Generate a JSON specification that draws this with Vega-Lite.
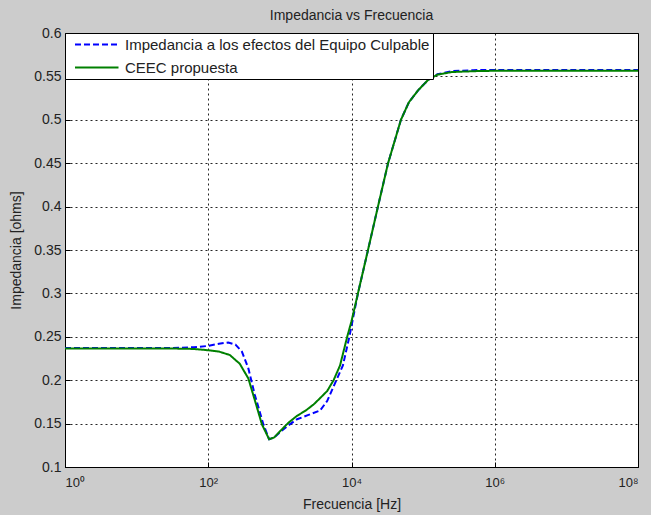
{
  "$schema": "https://vega.github.io/schema/vega-lite/v6.json",
  "width": 573,
  "height": 434,
  "autosize": "none",
  "padding": {"left": 65, "top": 33, "right": 13, "bottom": 48},
  "background": "#cccccc",
  "title": {"text": "Impedancia vs Frecuencia", "fontSize": 14, "fontWeight": "normal", "color": "#222222", "offset": 3, "font": "Liberation Sans"},
  "config": {
    "font": "Liberation Sans",
    "view": {"fill": "white", "stroke": "black", "strokeWidth": 1},
    "axis": {
      "domainColor": "black", "tickColor": "black", "labelColor": "#222222", "titleColor": "#222222",
      "labelFontSize": 14, "titleFontSize": 14, "titleFontWeight": "normal",
      "gridColor": "black", "gridDash": [2, 3], "gridOpacity": 0.85, "gridWidth": 1, "tickSize": -5
    },
    "legend": {
      "orient": "top-left", "offset": 0, "fillColor": "white", "strokeColor": "black", "padding": 3,
      "symbolType": "M-0.2,0H5.6", "symbolSize": 225, "symbolStrokeWidth": 2, "labelFontSize": 15,
      "labelColor": "#222222", "rowPadding": 6, "labelLimit": 400, "title": null, "labelOffset": 40
    }
  },
  "data": {"values": [
    {"f": 1, "z": 0.237, "serie": "Impedancia a los efectos del Equipo Culpable"},
    {"f": 31.6, "z": 0.237, "serie": "Impedancia a los efectos del Equipo Culpable"},
    {"f": 63.1, "z": 0.238, "serie": "Impedancia a los efectos del Equipo Culpable"},
    {"f": 100, "z": 0.2395, "serie": "Impedancia a los efectos del Equipo Culpable"},
    {"f": 141, "z": 0.242, "serie": "Impedancia a los efectos del Equipo Culpable"},
    {"f": 190, "z": 0.2435, "serie": "Impedancia a los efectos del Equipo Culpable"},
    {"f": 240, "z": 0.241, "serie": "Impedancia a los efectos del Equipo Culpable"},
    {"f": 295, "z": 0.233, "serie": "Impedancia a los efectos del Equipo Culpable"},
    {"f": 363, "z": 0.2136, "serie": "Impedancia a los efectos del Equipo Culpable"},
    {"f": 447, "z": 0.183, "serie": "Impedancia a los efectos del Equipo Culpable"},
    {"f": 589, "z": 0.149, "serie": "Impedancia a los efectos del Equipo Culpable"},
    {"f": 708, "z": 0.132, "serie": "Impedancia a los efectos del Equipo Culpable"},
    {"f": 832, "z": 0.134, "serie": "Impedancia a los efectos del Equipo Culpable"},
    {"f": 1000, "z": 0.14, "serie": "Impedancia a los efectos del Equipo Culpable"},
    {"f": 1318, "z": 0.148, "serie": "Impedancia a los efectos del Equipo Culpable"},
    {"f": 1738, "z": 0.155, "serie": "Impedancia a los efectos del Equipo Culpable"},
    {"f": 2512, "z": 0.16, "serie": "Impedancia a los efectos del Equipo Culpable"},
    {"f": 3631, "z": 0.165, "serie": "Impedancia a los efectos del Equipo Culpable"},
    {"f": 4571, "z": 0.176, "serie": "Impedancia a los efectos del Equipo Culpable"},
    {"f": 5495, "z": 0.191, "serie": "Impedancia a los efectos del Equipo Culpable"},
    {"f": 7586, "z": 0.217, "serie": "Impedancia a los efectos del Equipo Culpable"},
    {"f": 9333, "z": 0.25, "serie": "Impedancia a los efectos del Equipo Culpable"},
    {"f": 12300, "z": 0.3, "serie": "Impedancia a los efectos del Equipo Culpable"},
    {"f": 17000, "z": 0.35, "serie": "Impedancia a los efectos del Equipo Culpable"},
    {"f": 23400, "z": 0.4, "serie": "Impedancia a los efectos del Equipo Culpable"},
    {"f": 32400, "z": 0.45, "serie": "Impedancia a los efectos del Equipo Culpable"},
    {"f": 49000, "z": 0.5, "serie": "Impedancia a los efectos del Equipo Culpable"},
    {"f": 63100, "z": 0.52, "serie": "Impedancia a los efectos del Equipo Culpable"},
    {"f": 85100, "z": 0.534, "serie": "Impedancia a los efectos del Equipo Culpable"},
    {"f": 117500, "z": 0.546, "serie": "Impedancia a los efectos del Equipo Culpable"},
    {"f": 158500, "z": 0.5525, "serie": "Impedancia a los efectos del Equipo Culpable"},
    {"f": 251000, "z": 0.556, "serie": "Impedancia a los efectos del Equipo Culpable"},
    {"f": 501000, "z": 0.5572, "serie": "Impedancia a los efectos del Equipo Culpable"},
    {"f": 1000000, "z": 0.5575, "serie": "Impedancia a los efectos del Equipo Culpable"},
    {"f": 10000000, "z": 0.5575, "serie": "Impedancia a los efectos del Equipo Culpable"},
    {"f": 100000000, "z": 0.5575, "serie": "Impedancia a los efectos del Equipo Culpable"},
    {"f": 1, "z": 0.2365, "serie": "CEEC propuesta"},
    {"f": 10, "z": 0.2365, "serie": "CEEC propuesta"},
    {"f": 31.6, "z": 0.2365, "serie": "CEEC propuesta"},
    {"f": 63.1, "z": 0.236, "serie": "CEEC propuesta"},
    {"f": 100, "z": 0.2345, "serie": "CEEC propuesta"},
    {"f": 141, "z": 0.233, "serie": "CEEC propuesta"},
    {"f": 200, "z": 0.229, "serie": "CEEC propuesta"},
    {"f": 275, "z": 0.219, "serie": "CEEC propuesta"},
    {"f": 363, "z": 0.202, "serie": "CEEC propuesta"},
    {"f": 447, "z": 0.177, "serie": "CEEC propuesta"},
    {"f": 562, "z": 0.149, "serie": "CEEC propuesta"},
    {"f": 708, "z": 0.132, "serie": "CEEC propuesta"},
    {"f": 832, "z": 0.134, "serie": "CEEC propuesta"},
    {"f": 1000, "z": 0.141, "serie": "CEEC propuesta"},
    {"f": 1318, "z": 0.151, "serie": "CEEC propuesta"},
    {"f": 1738, "z": 0.159, "serie": "CEEC propuesta"},
    {"f": 2291, "z": 0.165, "serie": "CEEC propuesta"},
    {"f": 2951, "z": 0.172, "serie": "CEEC propuesta"},
    {"f": 3715, "z": 0.18, "serie": "CEEC propuesta"},
    {"f": 4571, "z": 0.1875, "serie": "CEEC propuesta"},
    {"f": 5623, "z": 0.2, "serie": "CEEC propuesta"},
    {"f": 6918, "z": 0.217, "serie": "CEEC propuesta"},
    {"f": 8710, "z": 0.25, "serie": "CEEC propuesta"},
    {"f": 10000, "z": 0.268, "serie": "CEEC propuesta"},
    {"f": 12300, "z": 0.3, "serie": "CEEC propuesta"},
    {"f": 17000, "z": 0.35, "serie": "CEEC propuesta"},
    {"f": 23400, "z": 0.4, "serie": "CEEC propuesta"},
    {"f": 32400, "z": 0.45, "serie": "CEEC propuesta"},
    {"f": 49000, "z": 0.5, "serie": "CEEC propuesta"},
    {"f": 63100, "z": 0.52, "serie": "CEEC propuesta"},
    {"f": 85100, "z": 0.534, "serie": "CEEC propuesta"},
    {"f": 117500, "z": 0.546, "serie": "CEEC propuesta"},
    {"f": 158500, "z": 0.552, "serie": "CEEC propuesta"},
    {"f": 251000, "z": 0.555, "serie": "CEEC propuesta"},
    {"f": 501000, "z": 0.556, "serie": "CEEC propuesta"},
    {"f": 1000000, "z": 0.5565, "serie": "CEEC propuesta"},
    {"f": 10000000, "z": 0.5565, "serie": "CEEC propuesta"},
    {"f": 100000000, "z": 0.5565, "serie": "CEEC propuesta"}
  ]},
  "mark": {"type": "line", "strokeWidth": 2, "clip": true},
  "encoding": {
    "x": {
      "field": "f", "type": "quantitative",
      "scale": {"type": "log", "domain": [1, 100000000], "nice": false},
      "axis": {"values": [1, 100, 10000, 1000000, 100000000], "title": "Frecuencia [Hz]", "labelPadding": 14, "titlePadding": 8, "labelFontSize": 13,
        "labelExpr": "datum.value == 1 ? '10⁰' : datum.value == 100 ? '10²' : datum.value == 10000 ? '10⁴' : datum.value == 1000000 ? '10⁶' : '10⁸'"}
    },
    "y": {
      "field": "z", "type": "quantitative",
      "scale": {"domain": [0.1, 0.6], "nice": false, "zero": false},
      "axis": {"values": [0.1, 0.15, 0.2, 0.25, 0.3, 0.35, 0.4, 0.45, 0.5, 0.55, 0.6], "format": "~g", "title": "Impedancia [ohms]", "labelPadding": 9, "titlePadding": 10}
    },
    "color": {
      "field": "serie", "type": "nominal",
      "scale": {"domain": ["Impedancia a los efectos del Equipo Culpable", "CEEC propuesta"], "range": ["#0000ff", "#008000"]}
    },
    "strokeDash": {
      "field": "serie", "type": "nominal",
      "scale": {"domain": ["Impedancia a los efectos del Equipo Culpable", "CEEC propuesta"], "range": [[6, 3], [1, 0]]}
    }
  }
}
